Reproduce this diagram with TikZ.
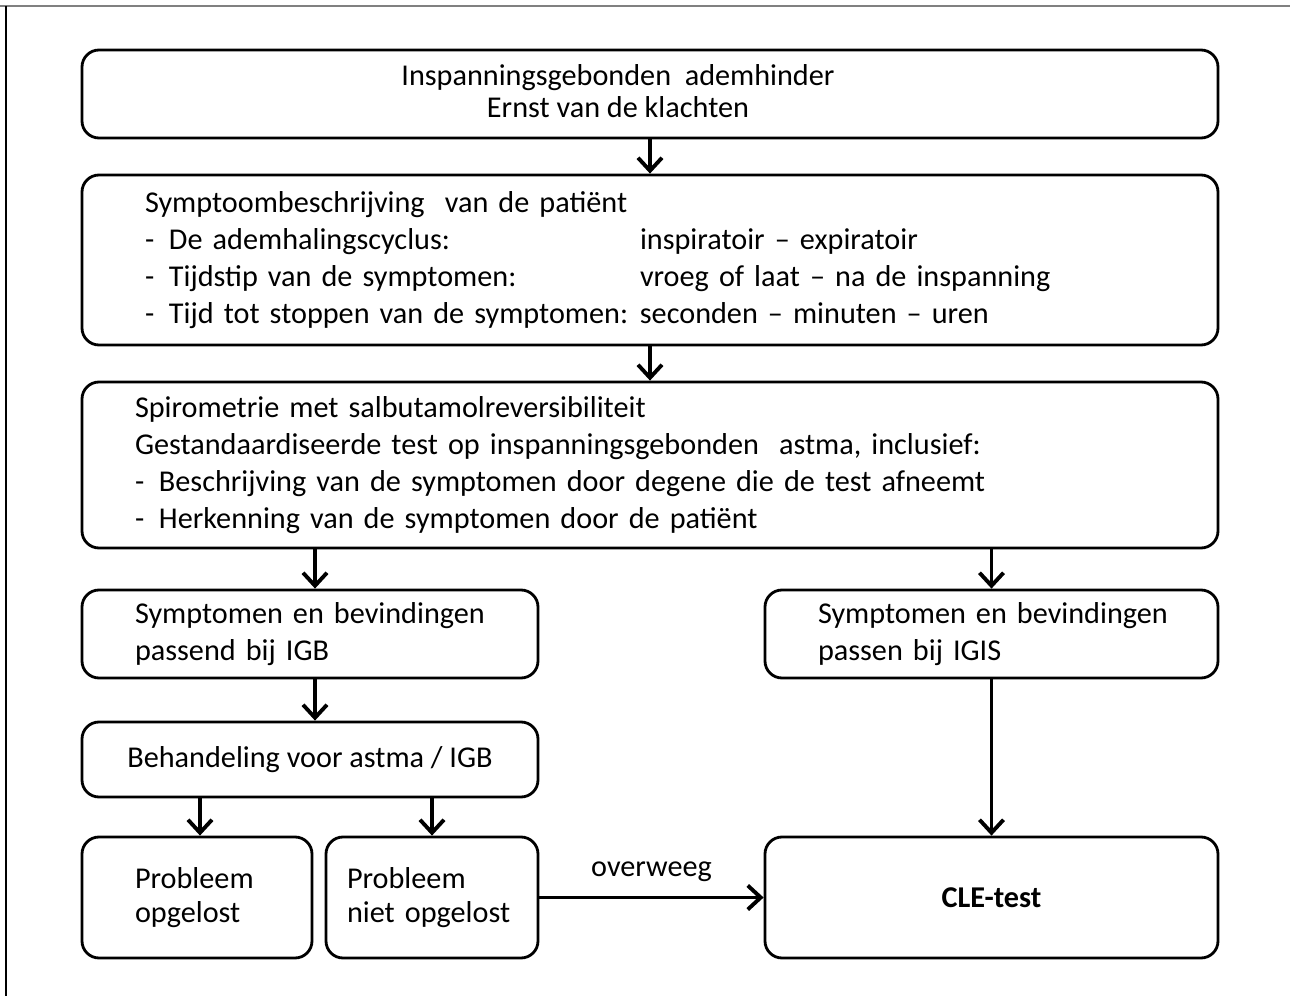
\documentclass[tikz,border=0pt]{standalone}
\usepackage{fontspec}
\setmainfont{Carlito}
\usetikzlibrary{arrows.meta,positioning}
\tikzset{>={Straight Barb[length=2.6mm,width=4.8mm]}}
\newcommand{\streep}{\makebox[0.48cm][l]{-}}

\begin{document}
\begin{tikzpicture}[font=\fontsize{17.2}{21}\selectfont, line width=1.6pt]

\tikzstyle{blok}=[draw,rounded corners=0.34cm,inner ysep=0pt,minimum height=1.76cm]
\tikzstyle{links}=[blok,align=left,inner xsep=1.06cm]
\tikzstyle{pijl}=[->,line width=2.2pt]

\useasboundingbox (0,0) rectangle (25.8,-19.92);
\draw[line width=0.6pt,gray] (0,-0.12) -- (25.8,-0.12);
\draw[line width=0.6pt] (0.12,-0.12) -- (0.12,-19.92);

\node[blok,minimum width=22.72cm] (klacht) at (13,-1.88)
  {\raisebox{2pt}{\begin{tabular}{@{}c@{}}Inspanningsgebonden\ \ ademhinder\\[-3pt] Ernst van de klachten\end{tabular}}\kern1.28cm};

\node[links,minimum height=3.4cm,text width=20.2cm,inner xsep=1.26cm] (symptoom) at (13,-5.2)
  {Symptoombeschrijving\ \ van de patiënt\\
   \makebox[9.9cm][l]{\streep De ademhalingscyclus:}inspiratoir -- expiratoir\\
   \makebox[9.9cm][l]{\streep Tijdstip van de symptomen:}vroeg of laat -- na de inspanning\\
   \makebox[9.9cm][l]{\streep Tijd tot stoppen van de symptomen:}seconden -- minuten -- uren};

\node[links,minimum height=3.32cm,text width=20.6cm] (spiro) at (13,-9.3)
  {Spirometrie met salbutamolreversibiliteit\\
   Gestandaardiseerde test op inspanningsgebonden\ \ astma, inclusief:\\
   \streep Beschrijving van de symptomen door degene die de test afneemt\\
   \streep Herkenning van de symptomen door de patiënt};

\node[links,text width=7cm] (igb) at (6.2,-12.68)
  {\mbox{Symptomen en bevindingen}\\ passend bij IGB};
\node[links,text width=6.94cm] (igis) at (19.83,-12.68)
  {\mbox{Symptomen en bevindingen}\\ passen bij IGIS};

\node[blok,minimum width=9.12cm,minimum height=1.5cm] (behandeling) at (6.2,-15.19)
  {Behandeling voor astma / IGB};

\node[links,minimum height=2.42cm,text width=2.48cm] (opgelost) at (3.94,-17.95)
  {Probleem\\[-2pt] opgelost};
\node[links,minimum height=2.42cm,text width=3.4cm,inner xsep=0.42cm] (nietopgelost) at (8.64,-17.95)
  {Probleem\\[-2pt] niet opgelost};
\node[blok,minimum width=9.06cm,minimum height=2.42cm] (cle) at (19.83,-17.95)
  {\textbf{CLE-test}};

\draw[pijl] (klacht) -- (symptoom);
\draw[pijl] (symptoom) -- (spiro);
\draw[pijl] (spiro.south -| 6.3,0) -- (igb.north -| 6.3,0);
\draw[pijl] (spiro.south -| igis.north) -- (igis.north);
\draw[pijl] (igb.south -| 6.3,0) -- (behandeling.north -| 6.3,0);
\draw[pijl] (behandeling.south -| 4,0) -- (opgelost.north -| 4,0);
\draw[pijl] (behandeling.south -| nietopgelost.north) -- (nietopgelost.north);
\draw[pijl] (igis) -- (cle);
\draw[pijl] (nietopgelost) -- node[above=1.6mm] {overweeg} (cle);
\end{tikzpicture}
\end{document}
